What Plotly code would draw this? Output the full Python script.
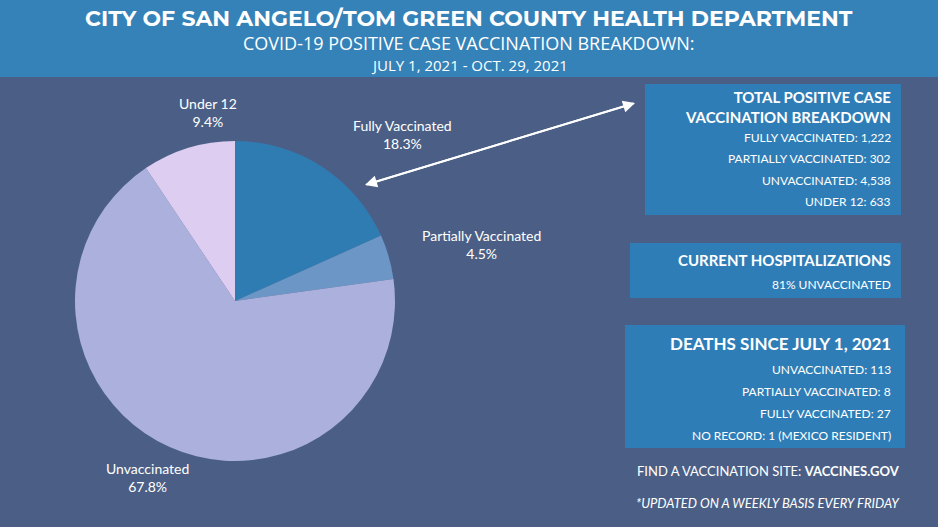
import plotly.graph_objects as go

W, H = 938, 527

labels = ["Fully Vaccinated", "Partially Vaccinated", "Unvaccinated", "Under 12"]
shares = [18.3, 4.5, 67.8, 9.4]
colors = ["#2f7cb2", "#6b96c6", "#abb0dd", "#dccdf1"]

# label positions in pixels
label_xy = [(402, 135), (482, 245), (104, 477), (177, 113)]

box1_lines = ["FULLY VACCINATED: 1,222", "PARTIALLY VACCINATED: 302", "UNVACCINATED: 4,538", "UNDER 12: 633"]
box3_lines = ["UNVACCINATED: 113", "PARTIALLY VACCINATED: 8", "FULLY VACCINATED: 27", "NO RECORD: 1 (MEXICO RESIDENT)"]


def px(x):
    return x / W


def py(y):
    return 1 - y / H


fig = go.Figure()
fig.add_trace(go.Pie(
    labels=labels, values=shares, marker=dict(colors=colors),
    sort=False, direction="clockwise", rotation=0,
    textinfo="none", hoverinfo="label+percent", showlegend=False,
    domain=dict(x=[px(75), px(395)], y=[py(462), py(140)]),
))

shapes = [
    dict(type="rect", xref="paper", yref="paper", x0=0, x1=1, y0=py(77), y1=1,
         fillcolor="#3582b8", line_width=0, layer="below"),
    dict(type="rect", xref="paper", yref="paper", x0=px(645), x1=px(901), y0=py(215), y1=py(84),
         fillcolor="#2f7db6", line_width=0, layer="below"),
    dict(type="rect", xref="paper", yref="paper", x0=px(630), x1=px(901), y0=py(298), y1=py(243),
         fillcolor="#2f7db6", line_width=0, layer="below"),
    dict(type="rect", xref="paper", yref="paper", x0=px(625), x1=px(905), y0=py(448), y1=py(325),
         fillcolor="#2f7db6", line_width=0, layer="below"),
]

F = "Open Sans"
ann = [
    dict(x=0.5, y=py(18), text="<b>CITY OF SAN ANGELO/TOM GREEN COUNTY HEALTH DEPARTMENT</b>",
         font=dict(family="Montserrat, Lato", size=22, color="white")),
    dict(x=0.5, y=py(43), text="COVID-19 POSITIVE CASE VACCINATION BREAKDOWN:",
         font=dict(family=F, size=18, color="white")),
    dict(x=0.5, y=py(65), text="JULY 1, 2021 - OCT. 29, 2021",
         font=dict(family=F, size=15, color="white")),
]
for (lx, ly), lab, s in zip(label_xy, labels, shares):
    ann.append(dict(x=px(lx), y=py(ly), text=f"{lab}<br>{s}%", align="center",
                    font=dict(family="Lato", size=14, color="white")))

R = px(893)
ann.append(dict(x=R, y=py(107), xanchor="right", align="right",
                text="<b>TOTAL POSITIVE CASE<br>VACCINATION BREAKDOWN</b>",
                font=dict(family="Lato", size=15, color="white")))
for i, t in enumerate(box1_lines):
    ann.append(dict(x=R, y=py(137 + 21.5 * i), xanchor="right", text=t,
                    font=dict(family="Lato", size=12, color="white")))
ann.append(dict(x=R, y=py(260), xanchor="right", text="<b>CURRENT HOSPITALIZATIONS</b>",
                font=dict(family="Lato", size=15, color="white")))
ann.append(dict(x=R, y=py(284), xanchor="right", text="81% UNVACCINATED",
                font=dict(family="Lato", size=12, color="white")))
ann.append(dict(x=R, y=py(343), xanchor="right", text="<b>DEATHS SINCE JULY 1, 2021</b>",
                font=dict(family="Lato", size=17, color="white")))
for i, t in enumerate(box3_lines):
    ann.append(dict(x=R, y=py(369 + 22 * i), xanchor="right", text=t,
                    font=dict(family="Lato", size=12, color="white")))
ann.append(dict(x=px(902), y=py(471), xanchor="right",
                text="FIND A VACCINATION SITE: <b>VACCINES.GOV</b>",
                font=dict(family="Lato", size=13, color="white")))
ann.append(dict(x=px(902), y=py(503), xanchor="right",
                text="<i>*UPDATED ON A WEEKLY BASIS EVERY FRIDAY</i>",
                font=dict(family="Lato", size=13, color="white")))
# double-headed arrow
for (x0, y0, x1, y1) in [(365, 185, 635, 103), (635, 103, 365, 185)]:
    ann.append(dict(x=px(x1), y=py(y1), ax=x0 - x1, ay=y0 - y1,
                    text="", showarrow=True, arrowhead=2, arrowsize=1.2, arrowwidth=2,
                    arrowcolor="white"))
for a in ann:
    a.setdefault("xref", "paper")
    a.setdefault("yref", "paper")
    a.setdefault("yanchor", "middle")
    a.setdefault("showarrow", False)

fig.update_layout(
    width=W, height=H, margin=dict(l=0, r=0, t=0, b=0),
    paper_bgcolor="#4b5f86", plot_bgcolor="#4b5f86",
    shapes=shapes, annotations=ann,
)
fig.write_html("out.html", config={"displayModeBar": False},
               post_script="document.body.style.margin='0';document.body.style.overflow='hidden';")
